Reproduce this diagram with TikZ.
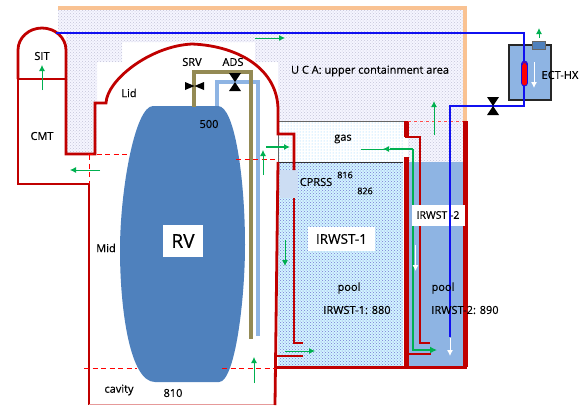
\documentclass[tikz,border=0pt]{standalone}
\usepackage{fontspec}
\setmainfont{Open Sans}[RawFeature={embolden=0.5}]
\usetikzlibrary{patterns,arrows.meta}
\definecolor{wallred}{HTML}{C00000}
\definecolor{peach}{HTML}{F9C292}
\definecolor{steelblue}{HTML}{4F81BD}
\definecolor{poolblue}{HTML}{8EB4E3}
\definecolor{olive}{HTML}{948A54}
\definecolor{flowgreen}{HTML}{00B050}
\definecolor{pipeblue}{HTML}{1010F0}
\tikzset{
    wall/.style={draw=wallred, line width=2.8},
    thickwall/.style={draw=wallred, line width=5},
    gate/.style={draw=red, line width=1, dashed, dash pattern=on 5pt off 3.5pt},
    flow/.style={draw=flowgreen, line width=0.8, -{Latex[length=6pt,width=6pt]}},
    boldflow/.style={draw=flowgreen, line width=1.6, -{Latex[length=6pt,width=6pt]}},
    whiteflow/.style={draw=white, line width=0.9, -{Latex[length=6pt,width=6pt]}},
    steam/.style={draw=flowgreen, line width=2},
    coolant/.style={draw=pipeblue, line width=2.3},
    label/.style={font=\fontsize{11}{13}\selectfont, text=black, inner sep=0pt},
    whitebox/.style={fill=white, inner sep=0pt, font=\fontsize{13.5}{15}\selectfont}
}
\begin{document}
\begin{tikzpicture}[x=1pt, y=-1pt]
    \useasboundingbox (0,0) rectangle (584,405);

    % upper containment
    \fill[blue!4] (58,10) -- (464,10) -- (464,162) -- (408,162) -- (408,121) -- (278,121) -- (278,62) -- (255,62) -- (255,42) -- (122,42) -- (122,62) -- (97,62) -- (97,154) -- (66,154) -- (66,33) -- (58,33) -- cycle;
    \fill[pattern=crosshatch dots, pattern color=blue!20!gray!38] (58,10) -- (464,10) -- (464,162) -- (408,162) -- (408,121) -- (278,121) -- (278,62) -- (255,62) -- (255,42) -- (122,42) -- (122,62) -- (97,62) -- (97,154) -- (66,154) -- (66,33) -- (58,33) -- cycle;
    \draw[draw=peach, line width=3.8] (58,8) -- (465,8) -- (465,121);

    % gas and pools
    \fill[pattern=dots, pattern color=blue!40!cyan!50] (278,121) rectangle (403,162);
    \fill[blue!25!cyan!18] (278,162) rectangle (403,367);
    \fill[pattern=crosshatch dots, pattern color=blue!50!gray!70] (278,162) rectangle (403,367);
    \fill[poolblue!45] (280,170) rectangle (298,198);
    \fill[poolblue] (408,162) rectangle (464,367);
    \draw[draw=black!60, line width=0.9] (278,162) -- (278,121) -- (404,121);
    \draw[draw=black!80, line width=0.7] (278,162) -- (403,162);

    % reactor vessel
    \fill[steelblue] (153,106) .. controls (135,106) and (120,190) .. (120,250) .. controls (120,310) and (130,382) .. (155,382) -- (219,382) .. controls (235,382) and (245,300) .. (245,245) .. controls (245,180) and (235,106) .. (218,106) -- cycle;

    % depressurization lines
    \draw[draw=poolblue, line width=4.5] (217,106) -- (217,82) -- (258,82) -- (258,336);
    \draw[draw=olive, line width=4] (194,107) -- (194,72) -- (251,72) -- (251,339);

    % walls
    \draw[wall] (18,79) -- (18,50) arc[start angle=180, end angle=360, x radius=24, y radius=22] -- (66,154) -- (95,154) -- (95,103) -- (106,103) .. controls (107,80) and (150,46) .. (192,44) .. controls (240,46) and (278,70) .. (278,110) -- (278,134) -- (294,134) -- (294,170);
    \draw[wall] (18,79) -- (66,79);
    \draw[wall] (18,79) -- (18,184) -- (89,184) -- (89,405);
    \draw[draw=wallred!40, line width=1] (89,404) -- (275,404);
    \draw[wall] (278,162) -- (275,405);
    \draw[wall] (294,198) -- (294,343) -- (303,343);
    \draw[wall] (276,356) -- (303,356);
    \draw[thickwall] (406,121) -- (406,137);
    \draw[wall] (405,137) -- (420,137) -- (420,343) -- (430,343);
    \draw[thickwall] (406,157) -- (406,367);
    \draw[wall] (406,354) -- (431,354);
    \draw[thickwall] (465,121) -- (465,367);
    \draw[wall] (276,367.5) -- (467,367.5);

    % openings
    \draw[gate] (88,154) -- (128,154);
    \draw[gate] (89,155) -- (89,184);
    \draw[gate] (236,159) -- (278,159);
    \draw[gate] (84,368.5) -- (137,368.5);
    \draw[gate] (222,368.5) -- (276,368.5);
    \draw[draw=red!70, line width=0.5, dashed] (408,121) -- (463,121);

    % sparger line
    \draw[steam, -{Latex[length=7pt,width=7pt]}] (412.5,149) -- (412.5,350) -- (437,350);
    \draw[steam] (412.5,149) -- (390,149);
    \draw[flow] (390,149) -- (383,149);
    \draw[draw=flowgreen, line width=0.8] (361,149) -- (385,149);

    % heat exchanger
    \draw[fill=poolblue, draw=black!85, line width=1.2] (509,45) rectangle (551,100);
    \draw[fill=steelblue, draw=black!60, line width=0.4] (532,41) rectangle (545,49);

    % white boxes
    \node[whitebox, minimum width=40, minimum height=32, font=\fontsize{19}{21}\selectfont] (rv) at (183,241) {RV};
    \node[whitebox, minimum width=67, minimum height=24] (irwstone) at (341.5,239) {IRWST-1};
    \node[whitebox, minimum width=53, minimum height=21, font=\fontsize{10.5}{12}\selectfont] (irwsttwo) at (438,215) {IRWST -2};

    % cooling line
    \draw[coolant] (56,33) -- (524,33) -- (524,106) -- (450,106) -- (450,337);
    \draw[draw=pipeblue, fill=red, line width=0.8, rounded corners=3] (521.5,61) rectangle (527.5,86);
    \draw[draw=pipeblue, line width=0.8] (522,65) arc[start angle=180, end angle=360, radius=2.5];

    % valves
    \fill[black] (185,82) -- (204,90) -- (204,82) -- (185,90) -- cycle;
    \fill[black] (229,73) -- (241,91) -- (229,91) -- (241,73) -- cycle;
    \fill[black] (487,97) -- (499,115) -- (487,115) -- (499,97) -- cycle;

    % flow arrows
    \draw[flow] (255,38) -- (285,38);
    \draw[flow] (42,90) -- (42,65);
    \draw[flow] (100,170) -- (70,170);
    \draw[boldflow] (266,147) -- (290,147);
    \draw[flow] (263,175) -- (263,150);
    \draw[flow, line width=1] (434,135) -- (434,101);
    \draw[flow] (285,240) -- (285,266);
    \draw[flow] (254,383) -- (254,357);
    \draw[flow] (285,351) -- (315,351);
    \draw[flow, line width=1] (539,38) -- (539,28);
    \draw[whiteflow] (415.5,245) -- (415.5,271);
    \draw[whiteflow] (450,338) -- (450,356);
    \draw[whiteflow] (534,62) -- (534,88);

    % labels
    \node[label] (sit) at (42,56) {SIT};
    \node[label] (cmt) at (42,136) {CMT};
    \node[label] (lid) at (129,93) {Lid};
    \node[label] (srv) at (192,62) {SRV};
    \node[label] (ads) at (233,62) {ADS};
    \node[label] (top) at (209,124) {500};
    \node[label] (uca) at (370,71) {U C A: upper containment area};
    \node[label] (ect) at (560,75) {ECT-HX};
    \node[label] (gas) at (343,139) {gas};
    \node[label] (cprss) at (316,182) {CPRSS};
    \node[label, font=\fontsize{9}{11}\selectfont] (cell) at (345,175) {816};
    \node[label, font=\fontsize{9}{11}\selectfont] (celltwo) at (365,191) {826};
    \node[label] (poolone) at (349,288) {pool};
    \node[label] (pooltwo) at (443,288) {pool};
    \node[label] (levelone) at (357,310) {IRWST-1: 880};
    \node[label] (leveltwo) at (465,310) {IRWST-2: 890};
    \node[label] (mid) at (106,248) {Mid};
    \node[label] (cavity) at (119,390) {cavity};
    \node[label] (bottom) at (173,393) {810};
\end{tikzpicture}
\end{document}
